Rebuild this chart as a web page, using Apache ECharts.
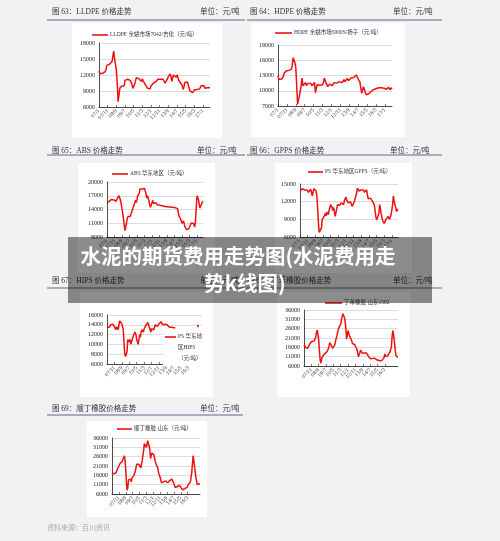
<!DOCTYPE html>
<html><head><meta charset="utf-8">
<script src="https://cdn.jsdelivr.net/npm/echarts@6/dist/echarts.min.js"></script>
<style>html,body{margin:0;padding:0;background:#f2f2f2}#c{width:500px;height:541px}</style>
</head><body><div id="c"></div><script>
// ---- data ----
const months = [];
for (let y = 7; y <= 17; y++) for (let m = 1; m <= 12; m++) {
  if (months.length < 129) months.push((y < 10 ? '0' + y : '' + y) + '/' + m);
}
const lldpe = [12800,12300,12200,12300,12300,12400,12500,12600,13000,13800,14000,13900,
 14000,14100,14200,14500,15500,16500,15000,14000,13000,10500,7000,8200,
 9500,9300,9900,10200,9800,10000,11000,11000,10800,11200,11000,11300,
 11000,11200,10300,9500,9600,10200,10800,11500,11200,11600,11300,11000,
 11200,10800,11300,10900,10600,10800,10000,10300,9500,9300,9600,9400,
 10000,10300,10000,10500,10300,10200,10800,11000,11200,11300,10900,11200,
 11300,11000,11200,10900,10500,10600,11000,11300,11700,12000,12200,11800,
 10800,11500,12000,12100,11900,11600,12000,11800,11000,10700,10500,10600,
 10000,9300,9800,10600,10700,10800,10700,10600,9500,9000,8800,9100,
 8700,8900,9200,9000,8900,9300,9500,9200,9400,9700,10000,10300,
 10200,10000,9500,9200,9300,9600,9400,9500,9600];
const hdpe = [13000,12200,12100,12300,12300,12500,12800,13500,13800,13900,13800,13900,
 14000,13800,13900,14200,15000,16500,16000,15500,14500,11000,7300,8200,
 9000,10000,11000,12500,11000,10800,11200,11600,11000,11200,11500,11300,
 11700,11400,11000,10800,11300,11600,9600,10500,11200,11000,11300,11100,
 11000,11400,11200,11600,12500,12000,11500,11200,10800,11000,11300,11200,
 11400,11000,11300,11600,11500,11800,11500,11200,11600,11800,12100,11700,
 11600,11900,12200,11800,11600,12000,12400,12000,11800,12100,12500,12300,
 12300,12600,12500,12800,13100,12900,12300,12000,11700,10500,9500,9800,
 10800,10300,9600,9200,9000,9200,9400,9600,9800,9900,10000,10200,
 10100,10300,10400,10500,10700,10600,10400,10800,10600,10400,10700,10500,
 10600,10800,10300,10500,10700,10400,10200,10600,10300];
const abs = [15500,15700,15600,15800,16000,16000,16200,16000,15900,16100,16300,16000,
 15800,16000,16500,16800,17000,16500,16000,15200,15000,14800,12000,10500,
 9400,9800,11000,12000,12500,12800,12600,12500,13000,13500,14000,14500,
 15000,15500,16000,15500,16200,17000,16800,17500,18500,18600,18400,18500,
 18500,18300,18600,18000,17500,16500,17000,16400,15800,15000,14500,14800,
 15500,16000,15300,15000,15400,15500,15200,15000,15100,14900,15000,14900,
 15000,14800,14900,15000,14700,14800,14900,14600,14500,14800,14600,14500,
 14400,14500,14600,14400,14500,14300,14600,14400,14300,14000,14200,13500,
 12500,12300,12000,11500,11000,11200,11500,10800,10200,10000,9600,9200,
 9400,9800,10200,10500,11000,10800,11200,11000,11300,10200,11500,14500,
 17000,17200,16200,15000,14300,14800,15200,15600,15800];
const gpps = [13800,14000,13800,14200,14300,14100,14000,14200,13900,14000,14100,13600,
 13500,13900,14100,13600,13000,13500,14200,14500,14000,13800,13000,11000,
 8500,6800,6500,6600,7500,9000,9300,9000,9600,10000,9600,10200,
 10400,9800,10500,11000,11500,11700,11000,10500,11000,11200,9500,10200,
 10800,11500,11300,11600,11400,11500,11800,12000,11700,11500,12200,12000,
 12800,12200,12000,11800,11500,11700,12000,11600,11200,11000,11500,12000,
 12300,13000,13500,14300,14500,13800,13500,13800,14000,14200,13900,14000,
 13600,13400,13800,14000,13200,12500,12700,12800,12600,12500,12300,12000,
 11800,11500,10500,9500,8900,9100,9000,10000,11500,10800,10000,9300,
 8800,8500,8300,8400,8900,9000,9200,9500,9300,9000,9400,9800,
 10000,11500,13000,12000,11800,11000,10300,10500,10800];
const hips = [13500,13400,13600,13500,13500,14000,14000,13900,14100,14000,13600,13200,
 13000,13600,13200,13000,13800,14800,14700,14500,14200,14000,13000,10000,
 8000,7500,7800,8500,11000,10500,10800,11000,10000,10500,11000,11500,
 12000,12200,12500,12000,11000,10500,10000,11000,12000,11500,12500,13000,
 12800,12500,13200,13500,13800,14000,14200,14500,14000,13500,13000,12500,
 13200,13500,13200,13000,13500,14000,13900,13800,13700,14000,14200,14500,
 14500,14600,14300,14000,14200,14300,14100,14000,14200,14000,13800,13600,
 13500,13500,13600,13500,13400,13500,13400,13300,13400,null,null,null,
 null,null,null,null,null,null,null,null,null,null,null,null,
 null,null,null,null,null,null,null,null,null,null,null,null,
 null,null,14000,13500,null,null,null,null,null];
const sbr = [17500,16800,16000,15500,15300,15500,16000,16500,18000,18800,19000,19200,
 19000,19200,19500,20000,21500,24000,25200,23000,20000,14000,9000,7500,
 9800,11000,11500,12000,12500,13000,12500,13500,14500,15000,16500,18500,
 17500,17000,16000,15500,14500,16000,17500,19500,21000,22500,23500,26000,
 26500,27000,28500,31000,32500,34000,34500,32000,30000,26000,20500,21500,
 25000,24000,22000,21500,21000,19500,18000,17500,17000,17500,17800,16500,
 15000,13500,11000,12000,13000,14500,13800,13000,12500,12800,13000,13200,
 13500,13000,12500,12000,11000,10500,10000,9800,9500,9800,10200,10500,
 10200,10000,9500,9800,9200,9000,9000,8800,8600,8500,9000,8700,
 9000,10500,12500,11000,10500,11000,11500,12000,12500,13500,15000,16500,
 22000,25000,22500,19000,15500,12000,11500,10800,11000];
const br = [17500,17200,17000,16800,16500,17000,17500,18500,19500,20000,21000,22000,
 22500,23000,23000,23500,24000,24500,26500,24000,19000,12000,8000,9500,
 13500,13000,13500,14000,12500,14500,15500,15000,16000,17000,18500,19500,
 22000,23000,22500,22000,22500,21000,20000,22000,24000,27000,29000,33000,
 34000,32000,31000,33000,34500,35500,34000,30000,25000,26000,28000,29000,
 28500,27000,25000,23500,22000,21000,20500,19000,17000,16000,15000,13500,
 12000,11000,12000,12500,13500,13500,13000,13200,12500,12000,12500,12800,
 13200,13500,13800,14000,13500,13000,11500,11000,9500,9000,8500,10000,
 10500,11000,10800,10000,9500,9000,8500,8200,8000,8500,9000,8800,
 8500,9500,10500,11000,11500,12000,12500,15000,17500,22000,26500,24000,
 21000,18000,15000,13000,11000,10500,10800,11500,11200];

const titles = ['图 63：LLDPE 价格走势','图 64：HDPE 价格走势','图 65：ABS 价格走势','图 66：GPPS 价格走势',
  '图 67：HIPS 价格走势','图 68：丁苯橡胶价格走势','图 69：顺丁橡胶价格走势'];
const legendNames = ['LLDPE 余姚市场7042/吉化（元/吨）','HDPE 余姚市场5000S/扬子（元/吨）','ABS 华东地区（元/吨）',
  'PS 华东地区GPPS（元/吨）','PS 华东地区HIPS（元/吨）','丁苯橡胶 山东1502','顺丁橡胶 山东（元/吨）'];
const unitText = '单位：元/吨';
const mainTitle = ['水泥的期货费用走势图(水泥费用走', '势k线图)'];
const sourceText = '资料来源：百川资讯';

// ---- layout ----
const FONT = '"Liberation Serif","Noto Sans CJK SC",serif';
const RED = '#ee1010';
const panels = [
  {data: lldpe, g: [99, 43, 111, 64], y: [6000, 18000, 3000]},
  {data: hdpe,  g: [278, 45, 114, 61], y: [7000, 19000, 3000]},
  {data: abs,   g: [107, 182, 96, 55], y: [8000, 20000, 3000]},
  {data: gpps,  g: [300, 184, 98, 53], y: [6000, 15000, 3000]},
  {data: hips,  g: [107, 315, 95, 49], y: [6000, 16000, 2000]},
  {data: sbr,   g: [304, 310, 94, 56], y: [6000, 36000, 5000]},
  {data: br,    g: [112, 438, 88, 56], y: [6000, 36000, 5000]}
];
const grid = [], xAxis = [], yAxis = [], series = [];
panels.forEach((p, i) => {
  grid.push({left: p.g[0], top: p.g[1], width: p.g[2], height: p.g[3], containLabel: false});
  xAxis.push({type: 'category', gridIndex: i, data: months, boundaryGap: false,
    axisLine: {lineStyle: {color: '#222', width: 0.8}},
    axisTick: {show: true, inside: true, length: 2, interval: 9, lineStyle: {color: '#222', width: 0.6}},
    axisLabel: {interval: 9, rotate: 45, fontSize: 5.5, margin: 3, color: '#333', fontFamily: FONT},
    splitLine: {show: false}});
  yAxis.push({type: 'value', gridIndex: i, min: p.y[0], max: p.y[1], interval: p.y[2],
    axisLine: {show: true, lineStyle: {color: '#222', width: 0.8}},
    axisTick: {show: false},
    axisLabel: {fontSize: 6, margin: 4, color: '#222', fontFamily: FONT, formatter: v => String(v)},
    splitLine: {show: true, lineStyle: {color: '#c4c4c4', width: 0.6}}});
  series.push({type: 'line', name: legendNames[i], xAxisIndex: i, yAxisIndex: i, data: p.data,
    showSymbol: false, connectNulls: false, lineStyle: {color: RED, width: 1.5}, z: 3});
});

function T(x, y, text, size, opts) {
  opts = opts || {};
  return {type: 'text', x: x, y: y, z: opts.z || 5,
    style: {text: text, fill: opts.fill || '#333', font: (opts.weight || 'normal') + ' ' + size + 'px ' + (opts.family || FONT),
      align: opts.align || 'left', verticalAlign: 'middle', textAlign: opts.align || 'left', textVerticalAlign: 'middle'}};
}
function R(x, y, w, h, fill, z) { return {type: 'rect', z: z, shape: {x: x, y: y, width: w, height: h}, style: {fill: fill}}; }
function L(x1, y1, x2, y2, stroke, w, z) { return {type: 'line', z: z || 5, shape: {x1: x1, y1: y1, x2: x2, y2: y2}, style: {stroke: stroke, lineWidth: w}}; }

const graphic = [];
// cards
[[72,23,150,115],[251,23,154,114],[78,163,137,110],[275,163,137,110],[80,292,133,105],[277,292,133,105],[87,421,120,96]]
  .forEach(c => graphic.push(R(c[0], c[1], c[2], c[3], '#ffffff', -10)));
// headers
const hdrs = [[52,12,200,47,245,20],[250,12,393,247,442,20],[52,151,197,47,245,155],[250,151,390,247,442,155],
  [52,281,200,47,245,288],[247,281,393,247,442,288],[52,409,200,47,243,415]];
hdrs.forEach((h, i) => {
  graphic.push(T(h[0], h[1], titles[i], 7.5));
  graphic.push(T(h[2], h[1], unitText, 7.5));
  graphic.push(L(h[3], h[5], h[4], h[5], '#5a6a8a', 1));
});
// legends
const legs = [[92,108,35],[275,292,33],[112,128,174],[308,323,172],null,[325,342,303],[117,132,429]];
legs.forEach((l, i) => {
  if (!l) return;
  graphic.push(L(l[0], l[2], l[1], l[2], RED, 1.6));
  graphic.push(T(l[1] + 2, l[2], legendNames[i], 5.5));
});
// HIPS legend (wrapped, right side of plot)
graphic.push(R(163, 330, 47, 36, '#ffffff', 4));
graphic.push(L(165, 337, 176, 337, RED, 1.6, 6));
graphic.push(T(178, 337, 'PS 华东地', 5.5, {z: 6}));
graphic.push(T(178, 348, '区HIPS', 5.5, {z: 6}));
graphic.push(T(178, 359, '（元/吨）', 5.5, {z: 6}));
// source
graphic.push(T(47, 528, sourceText, 7, {fill: '#aaaaaa'}));
// overlay banner
graphic.push(R(68, 237, 364, 66, 'rgba(0,0,0,0.45)', 100));
graphic.push(T(238, 256, mainTitle[0], 20.5, {fill: '#ffffff', weight: 'bold', align: 'center', family: '"Noto Sans CJK SC",sans-serif', z: 101}));
graphic.push(T(245, 283, mainTitle[1], 20.5, {fill: '#ffffff', weight: 'bold', align: 'center', family: '"Noto Sans CJK SC",sans-serif', z: 101}));

const chart = echarts.init(document.getElementById('c'), null, {renderer: 'canvas'});
chart.setOption({backgroundColor: '#f2f2f2', animation: false, grid, xAxis, yAxis, series, graphic});
</script></body></html>
